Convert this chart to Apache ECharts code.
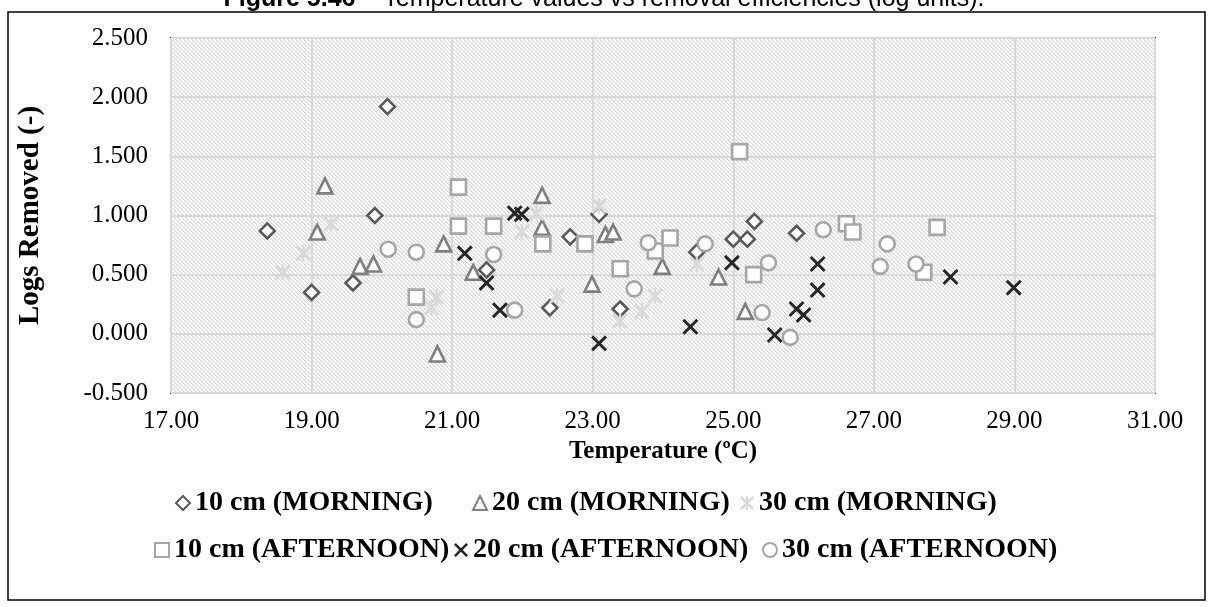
<!DOCTYPE html>
<html>
<head>
<meta charset="utf-8">
<script src="https://cdn.jsdelivr.net/npm/echarts@6/dist/echarts.min.js"></script>
<style>
  html, body { margin: 0; padding: 0; background: #fff; }
  #chart { width: 1214px; height: 607px; }
</style>
</head>
<body>
<div id="chart"></div>
<script>
// Temperature (ºC) vs logs removed, one array of [temperature, logs] per depth / session
const morning10 = [[18.37,0.87],[19.0,0.35],[19.59,0.43],[19.9,1.0],[20.08,1.92],[21.49,0.54],[22.39,0.22],[22.68,0.82],[23.09,1.01],[23.39,0.21],[24.48,0.69],[25.0,0.80],[25.2,0.80],[25.3,0.95],[25.9,0.85]];
const morning20 = [[19.08,0.86],[19.19,1.25],[19.69,0.57],[19.88,0.59],[20.79,-0.17],[20.88,0.76],[21.3,0.52],[22.28,1.17],[22.28,0.90],[22.99,0.42],[23.18,0.84],[23.29,0.86],[23.99,0.57],[24.79,0.48],[25.17,0.19]];
const morning30 = [[18.59,0.52],[18.88,0.68],[19.28,0.93],[20.78,0.31],[20.71,0.22],[22.2,1.02],[21.99,0.86],[22.49,0.32],[23.09,1.08],[23.39,0.11],[23.7,0.19],[23.89,0.32],[24.48,0.59]];
const afternoon10 = [[20.49,0.31],[21.09,1.24],[21.09,0.91],[21.59,0.91],[22.29,0.76],[22.89,0.76],[23.39,0.55],[23.89,0.70],[24.1,0.81],[25.09,1.54],[25.29,0.50],[26.61,0.93],[26.7,0.86],[27.71,0.52],[27.9,0.90]];
const afternoon20 = [[21.89,1.02],[21.99,1.01],[21.18,0.68],[21.49,0.43],[21.68,0.20],[23.09,-0.08],[24.39,0.06],[24.98,0.60],[26.2,0.59],[26.2,0.37],[25.9,0.21],[26.0,0.16],[25.59,-0.01],[28.09,0.48],[28.99,0.39]];
const afternoon30 = [[20.09,0.715],[20.49,0.69],[20.49,0.12],[21.59,0.67],[21.89,0.20],[23.59,0.38],[23.79,0.77],[24.6,0.76],[25.5,0.60],[25.41,0.18],[25.81,-0.03],[26.28,0.88],[27.09,0.57],[27.19,0.76],[27.6,0.59]];

const seriesNames = ['10 cm (MORNING)', '20 cm (MORNING)', '30 cm (MORNING)',
                     '10 cm (AFTERNOON)', '20 cm (AFTERNOON)', '30 cm (AFTERNOON)'];
const xTicks = { min: 17, max: 31, step: 2 };
const yTicks = { min: -0.5, max: 2.5, step: 0.5 };

const SERIF = '"Liberation Serif", "Times New Roman", serif';
const SANS = '"Liberation Sans", Arial, sans-serif';

// filled outlines for the cross and asterisk markers
const CROSS = 'path://M0,13L13,0L100,87L87,100ZM87,0L100,13L13,100L0,87Z';
const ASTER = 'path://M0,13L13,0L100,87L87,100ZM87,0L100,13L13,100L0,87ZM43,0L57,0L57,100L43,100Z';

// light diagonal hatch used behind the plot
function hatch() {
  const c = document.createElement('canvas');
  c.width = 8; c.height = 8;
  const g = c.getContext('2d');
  g.fillStyle = '#ffffff';
  g.fillRect(0, 0, 8, 8);
  for (let y = 0; y < 8; y++) {
    for (let x = 0; x < 8; x++) {
      const k = (((x - y) % 4) + 4) % 4;
      if (k === 0) { g.fillStyle = '#d8d8d8'; g.fillRect(x, y, 1, 1); }
      else if (k === 1) { g.fillStyle = '#ededed'; g.fillRect(x, y, 1, 1); }
    }
  }
  return c;
}

const styles = [
  { data: morning10,   symbol: 'diamond',  size: 15, color: '#fff',    border: '#595959', bw: 2.6 },
  { data: morning20,   symbol: 'triangle', size: 15, color: '#fff',    border: '#7f7f7f', bw: 2.6 },
  { data: morning30,   symbol: ASTER,      size: 16, color: '#d9d9d9', border: '#d9d9d9', bw: 0 },
  { data: afternoon10, symbol: 'rect',     size: 15, color: '#fff',    border: '#a6a6a6', bw: 2.6 },
  { data: afternoon20, symbol: CROSS,      size: 16, color: '#262626', border: '#262626', bw: 0 },
  { data: afternoon30, symbol: 'circle',   size: 15, color: '#fff',    border: '#a6a6a6', bw: 2.6 }
];

const series = styles.map((s, i) => ({
  name: seriesNames[i],
  type: 'scatter',
  data: s.data,
  symbol: s.symbol,
  symbolSize: s.size,
  itemStyle: { color: s.color, borderColor: s.border, borderWidth: s.bw, opacity: 1 },
  emphasis: { disabled: true },
  z: 2 + i
}));

const legendSpots = [
  [175, 489], [472, 489], [740, 489],
  [154, 536], [454, 536], [762, 536]
];

const legends = seriesNames.map((name, i) => ({
  data: [{ name: name, itemStyle: { borderWidth: styles[i].bw ? 2 : 0 } }],
  left: legendSpots[i][0],
  top: legendSpots[i][1],
  padding: 0,
  itemWidth: 14,
  itemHeight: 14,
  itemGap: 0,
  selectedMode: false,
  textStyle: { fontFamily: SERIF, fontWeight: 'bold', fontSize: 28, color: '#000' }
}));

const chart = echarts.init(document.getElementById('chart'), null, { renderer: 'canvas' });
chart.setOption({
  animation: false,
  backgroundColor: '#fff',
  grid: {
    show: true,
    left: 171, top: 38, width: 984, height: 355,
    backgroundColor: { image: hatch(), repeat: 'repeat' },
    borderColor: '#3a3a3a',
    borderWidth: 2
  },
  xAxis: {
    type: 'value',
    min: xTicks.min, max: xTicks.max, interval: xTicks.step,
    name: 'Temperature (ºC)',
    nameLocation: 'middle',
    nameGap: 27,
    nameTextStyle: { fontFamily: SERIF, fontWeight: 'bold', fontSize: 25, color: '#000' },
    axisLine: { show: false },
    axisTick: { show: false },
    splitLine: { show: true, lineStyle: { color: '#d9d9d9', width: 2 } },
    axisLabel: { fontFamily: SERIF, fontSize: 25, color: '#000', margin: 16,
                 formatter: v => v.toFixed(2) }
  },
  yAxis: {
    type: 'value',
    min: yTicks.min, max: yTicks.max, interval: yTicks.step,
    name: 'Logs Removed (-)',
    nameLocation: 'middle',
    nameGap: 126,
    nameTextStyle: { fontFamily: SERIF, fontWeight: 'bold', fontSize: 29, color: '#000' },
    axisLine: { show: false },
    axisTick: { show: false },
    splitLine: { show: true, lineStyle: { color: '#d9d9d9', width: 2 } },
    axisLabel: { fontFamily: SERIF, fontSize: 25, color: '#000', margin: 23,
                 formatter: v => v.toFixed(3) }
  },
  legend: legends,
  graphic: [
    {
      type: 'rect',
      shape: { x: 8, y: 12, width: 1197, height: 588 },
      style: { fill: 'none', stroke: '#000', lineWidth: 1.5 },
      silent: true, z: 0
    },
    {
      type: 'text',
      x: 604, y: 12,
      style: {
        text: '{b|Figure 5.46} – Temperature values vs removal efficiencies (log units).',
        font: '25px ' + SANS,
        fill: '#000',
        align: 'center',
        verticalAlign: 'bottom',
        rich: { b: { fontWeight: 'bold', fontSize: 25, fontFamily: SANS } }
      },
      silent: true
    }
  ],
  series: series
});
</script>
</body>
</html>
